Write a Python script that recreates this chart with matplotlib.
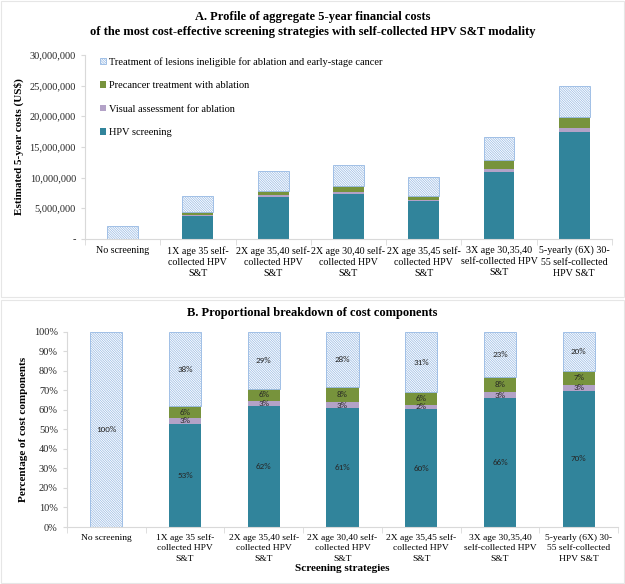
import matplotlib.pyplot as plt
import matplotlib.ticker as mticker
from matplotlib.patches import Rectangle
import numpy as np

plt.rcParams['font.family'] = ['Liberation Serif', 'DejaVu Serif']
plt.rcParams['hatch.linewidth'] = 0.5

# strategies and cost components (US$ millions)
strategies = ['No screening',
              '1X age 35 self-\ncollected HPV\nS&T',
              '2X age 35,40 self-\ncollected HPV\nS&T',
              '2X age 30,40 self-\ncollected HPV\nS&T',
              '2X age 35,45 self-\ncollected HPV\nS&T',
              '3X age 30,35,40\nself-collected HPV\nS&T',
              '5-yearly (6X) 30-\n55 self-collected\nHPV S&T']
hpv_screening = [0.0, 3.70, 6.85, 7.35, 6.10, 10.95, 17.40]
visual_assess = [0.0, 0.21, 0.33, 0.36, 0.24, 0.50, 0.75]
ablation = [0.0, 0.42, 0.65, 0.95, 0.64, 1.33, 1.75]
treat_other = [2.10, 2.67, 3.25, 3.40, 3.12, 3.82, 5.00]

names = ['HPV screening', 'Visual assessment for ablation',
         'Precancer treatment with ablation',
         'Treatment of lesions ineligible for ablation and early-stage cancer']
colors = ['#31849B', '#B3A2C7', '#77933C', 'white']
hatch_col = '#95B8E3'
grey = '#D9D9D9'

data = np.array([hpv_screening, visual_assess, ablation, treat_other]) * 1e6
pct = data / data.sum(axis=0) * 100
x = np.arange(len(strategies))

fig = plt.figure(figsize=(6.25, 5.84), dpi=100)

# panel frames
for y0, h in [(0.492, 0.506), (0.002, 0.484)]:
    fig.patches.append(Rectangle((0.002, y0), 0.996, h, transform=fig.transFigure,
                                 fill=False, edgecolor='#E6E6E6', linewidth=0.8))


def style_axis(ax, xsize, spacing):
    for s in ['top', 'right']:
        ax.spines[s].set_visible(False)
    for s in ['left', 'bottom']:
        ax.spines[s].set_color(grey)
    ax.tick_params(axis='y', colors=grey, labelcolor='#262626', labelsize=7.5, length=3)
    ax.tick_params(axis='x', which='major', length=0, labelsize=xsize, labelcolor='black',
                   pad=5)
    ax.set_xticks(np.arange(-0.5, len(strategies), 1), minor=True)
    ax.tick_params(axis='x', which='minor', length=4, color=grey)
    ax.set_xticks(x)
    ax.set_xticklabels(strategies, linespacing=spacing)
    ax.set_xlim(-0.5, len(strategies) - 0.5)


def draw_stack(ax, vals, width):
    bottom = np.zeros(len(strategies))
    for i in range(4):
        if i == 3:
            ax.bar(x, vals[i], width, bottom=bottom, color='white',
                   edgecolor=hatch_col, hatch='\\' * 14, linewidth=0.6,
                   label=names[i])
        else:
            ax.bar(x, vals[i], width, bottom=bottom, color=colors[i],
                   edgecolor='none', label=names[i])
        bottom = bottom + vals[i]


# ---- Panel A
ax1 = fig.add_axes([0.136, 0.591, 0.843, 0.315])
draw_stack(ax1, data, 0.41)
style_axis(ax1, 7.2, 1.3)
ax1.set_ylim(0, 30e6)
ax1.set_yticks(np.arange(0, 30e6 + 1, 5e6))
ax1.yaxis.set_major_formatter(mticker.FuncFormatter(
    lambda v, p: '-' if v == 0 else f'{int(v):,}'))
ax1.set_ylabel('Estimated 5-year costs (US$)', fontsize=8, fontweight='bold', labelpad=4)
fig.text(0.5, 0.958, 'A. Profile of aggregate 5-year financial costs\n'
         'of the most cost-effective screening strategies with self-collected HPV S&T modality',
         ha='center', va='center', fontsize=9, fontweight='bold', linespacing=1.25)
h, l = ax1.get_legend_handles_labels()
ax1.legend(h[::-1], l[::-1], loc='upper left', bbox_to_anchor=(0.01, 1.04), frameon=False,
           fontsize=7.5, handlelength=0.6, handleheight=0.6, handletextpad=0.3,
           labelspacing=1.4)

# ---- Panel B
ax2 = fig.add_axes([0.107, 0.0976, 0.882, 0.334])
draw_stack(ax2, pct, 0.41)
style_axis(ax2, 6.8, 1.4)
ax2.set_ylim(0, 100)
ax2.set_yticks(np.arange(0, 101, 10))
ax2.yaxis.set_major_formatter(mticker.FuncFormatter(lambda v, p: f'{int(v)}%'))
ax2.set_ylabel('Percentage of cost components', fontsize=8, fontweight='bold', labelpad=4)
ax2.set_xlabel('Screening strategies', fontsize=8, fontweight='bold', labelpad=1)
fig.text(0.5, 0.464, 'B. Proportional breakdown of cost components',
         ha='center', va='center', fontsize=9, fontweight='bold')

bottom = np.zeros(len(strategies))
for i in range(4):
    for j in range(len(strategies)):
        if pct[i, j] > 0.5:
            ax2.text(x[j], bottom[j] + pct[i, j] / 2, f'{pct[i, j]:.0f}%',
                     ha='center', va='center', fontsize=6.5, color='#262626',
                     family=['Carlito', 'DejaVu Sans'])
    bottom = bottom + pct[i]

fig.savefig('out.png', dpi=100)
